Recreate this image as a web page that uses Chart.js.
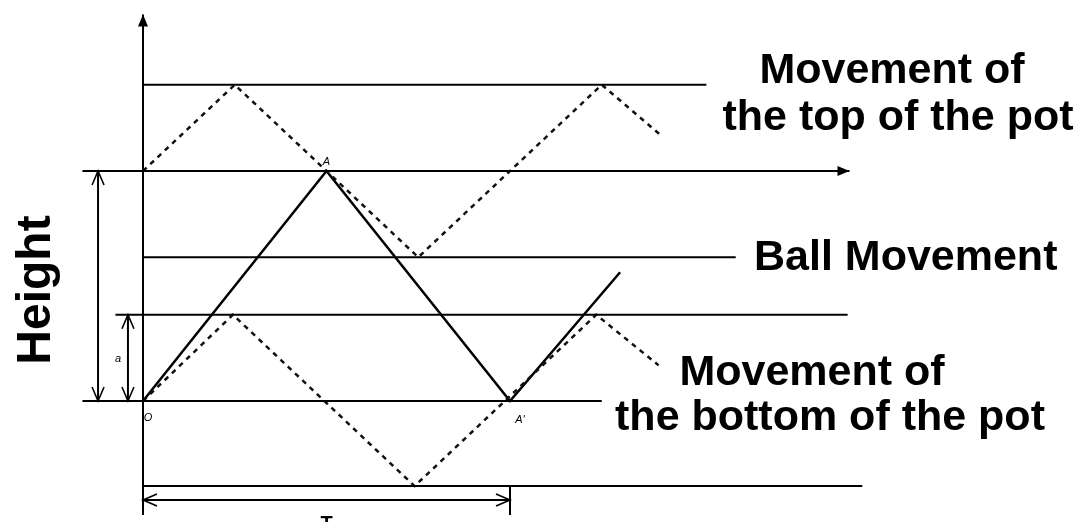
<!DOCTYPE html>
<html>
<head>
<meta charset="utf-8">
<script src="https://cdn.jsdelivr.net/npm/chart.js@4.4.0/dist/chart.umd.min.js"></script>
<style>
    html, body { margin: 0; padding: 0; background: #fff; }
    #wrap { position: relative; width: 1083px; height: 522px; }
</style>
</head>
<body>
<div id="wrap"><canvas id="pot_chart"></canvas></div>
<script>
// time in units of T/2, height in units where the turning point A = 10
const topPotT = [0, 0.5, 1.5, 2.5, 2.83];
const topPotH = [10, 13.75, 6.25, 13.75, 11.5];
const bottomPotT = [0, 0.49, 1.48, 2.47, 2.81];
const bottomPotH = [0, 3.75, -3.7, 3.75, 1.55];
const ballT = [0, 1, 2, 2.6];
const ballH = [0, 10, 0, 5.6];

// horizontal guide lines
const levelH = [13.75, 10, 6.25, 3.75, 0, -3.7];
const levelFrom = [0, -0.33, 0, -0.15, -0.33, 0];
const levelTo = [3.07, 3.85, 3.23, 3.84, 2.5, 3.92];

// vertical axis and dimension marks
const axisH = [-4.96, 16.8];
const heightDimT = -0.245;
const aDimT = -0.082;
const periodDimH = -4.3;
const periodT = [0, 2];
const periodTickH = [-3.7, -4.96];

function pts(ts, hs){
    return ts.map(function(t, i){ return {x: t, y: hs[i]}; });
}

var datasets = [];
for (let i = 0; i < levelH.length; i++){
    datasets.push({ data: pts([levelFrom[i], levelTo[i]], [levelH[i], levelH[i]]), borderColor: '#000', borderWidth: 2 });
}
datasets.push({ data: pts([0, 0], axisH), borderColor: '#000', borderWidth: 2 });
datasets.push({ data: pts([heightDimT, heightDimT], [0, levelH[1]]), borderColor: '#000', borderWidth: 2 });
datasets.push({ data: pts([aDimT, aDimT], [0, levelH[3]]), borderColor: '#000', borderWidth: 2 });
datasets.push({ data: pts(periodT, [periodDimH, periodDimH]), borderColor: '#000', borderWidth: 2 });
datasets.push({ data: pts([periodT[1], periodT[1]], periodTickH), borderColor: '#000', borderWidth: 2 });
datasets.push({ data: pts(topPotT, topPotH), borderColor: '#111', borderWidth: 2.5, borderDash: [5, 5] });
datasets.push({ data: pts(bottomPotT, bottomPotH), borderColor: '#111', borderWidth: 2.5, borderDash: [5, 5] });
datasets.push({ data: pts(ballT, ballH), borderColor: '#000', borderWidth: 2.5 });

datasets.forEach(function(d){
    d.showLine = true;
    d.pointRadius = 0;
    d.tension = 0;
    d.fill = false;
});

// px per unit: x 183.5, y 23 ; origin O sits at (143, 401)
const xPx = 183.5, yPx = 23, ox = 143, oy = 401;

function arrowHead(ctx, x1, y1, x2, y2, len, half, filled){
    let a = Math.atan2(y2 - y1, x2 - x1);
    let bx = x2 - len * Math.cos(a), by = y2 - len * Math.sin(a);
    let px = -Math.sin(a) * half, py = Math.cos(a) * half;
    ctx.beginPath();
    ctx.moveTo(bx + px, by + py);
    ctx.lineTo(x2, y2);
    ctx.lineTo(bx - px, by - py);
    if (filled){
        ctx.closePath();
        ctx.fill();
    }
    else{
        ctx.stroke();
    }
}

const decorations = {
    id: 'decorations',
    afterDatasetsDraw: function(chart){
        const ctx = chart.ctx;
        const sx = chart.scales.x, sy = chart.scales.y;
        const X = function(t){ return sx.getPixelForValue(t); };
        const Y = function(h){ return sy.getPixelForValue(h); };
        ctx.save();
        ctx.fillStyle = '#000';
        ctx.strokeStyle = '#000';
        ctx.lineWidth = 1.6;

        // axis arrows
        arrowHead(ctx, X(0), Y(0), X(0), Y(axisH[1]), 12, 5, true);
        arrowHead(ctx, X(0), Y(levelH[1]), X(levelTo[1]), Y(levelH[1]), 12, 5, true);

        // dimension arrows
        arrowHead(ctx, X(heightDimT), Y(0), X(heightDimT), Y(levelH[1]), 14, 6, false);
        arrowHead(ctx, X(heightDimT), Y(levelH[1]), X(heightDimT), Y(0), 14, 6, false);
        arrowHead(ctx, X(aDimT), Y(0), X(aDimT), Y(levelH[3]), 14, 6, false);
        arrowHead(ctx, X(aDimT), Y(levelH[3]), X(aDimT), Y(0), 14, 6, false);
        arrowHead(ctx, X(periodT[1]), Y(periodDimH), X(periodT[0]), Y(periodDimH), 14, 6, false);
        arrowHead(ctx, X(periodT[0]), Y(periodDimH), X(periodT[1]), Y(periodDimH), 14, 6, false);

        // small point labels
        ctx.font = 'italic 11px "Liberation Sans", Arial, sans-serif';
        ctx.textAlign = 'center';
        ctx.textBaseline = 'alphabetic';
        ctx.fillText('A', X(ballT[1]), Y(ballH[1]) - 6);
        ctx.fillText("A'", X(ballT[2]) + 10, Y(ballH[2]) + 22);
        ctx.fillText('O', X(0) + 5, Y(0) + 20);
        ctx.fillText('a', X(aDimT) - 10, Y(levelH[3] / 2) + 4);
        ctx.font = 'bold 20px "Liberation Sans", Arial, sans-serif';
        ctx.textBaseline = 'top';
        ctx.fillText('T', X((periodT[0] + periodT[1]) / 2), Y(periodDimH) + 15);

        // captions
        ctx.font = 'bold 43px "Liberation Sans", Arial, sans-serif';
        ctx.textBaseline = 'alphabetic';
        ctx.textAlign = 'center';
        ctx.fillText('Movement of', 892, 83);
        ctx.fillText('the top of the pot', 898, 130);
        ctx.textAlign = 'left';
        ctx.fillText('Ball Movement', 754, 270);
        ctx.textAlign = 'center';
        ctx.fillText('Movement of', 812, 385);
        ctx.fillText('the bottom of the pot', 830, 430);

        ctx.font = 'bold 48px "Liberation Sans", Arial, sans-serif';
        ctx.translate(50, 290);
        ctx.rotate(-Math.PI / 2);
        ctx.fillText('Height', 0, 0);
        ctx.restore();
    }
};

var ctx = document.getElementById('pot_chart').getContext('2d');
var pot_chart = new Chart(ctx, {
    type: 'scatter',
    data: { datasets: datasets },
    options: {
        responsive: true,
        maintainAspectRatio: false,
        animation: false,
        layout: { padding: 0 },
        plugins: {
            legend: { display: false },
            tooltip: { enabled: false }
        },
        scales: {
            x: { type: 'linear', display: false, min: -ox / xPx, max: (1083 - ox) / xPx },
            y: { type: 'linear', display: false, min: -(522 - oy) / yPx, max: oy / yPx }
        }
    },
    plugins: [decorations]
});
</script>
</body>
</html>
